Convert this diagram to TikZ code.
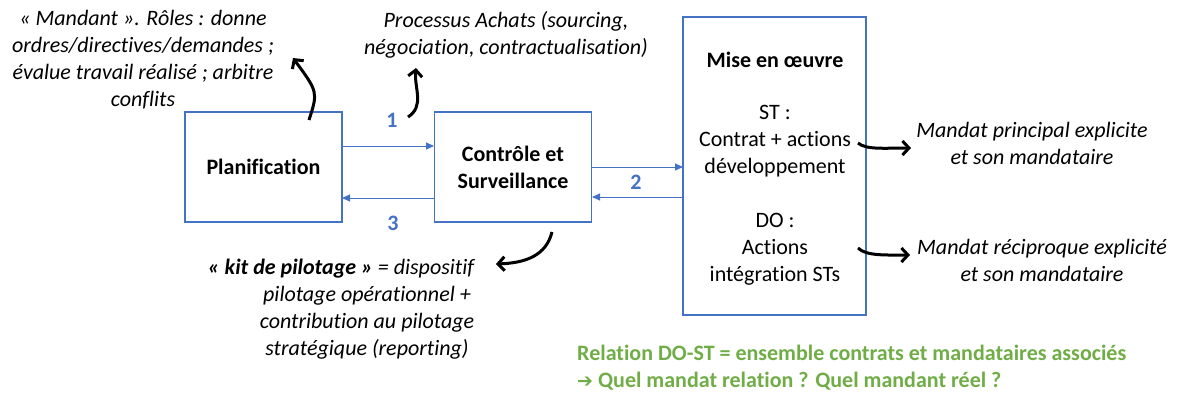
\documentclass[tikz,border=0pt]{standalone}
\usepackage{fontspec}
\setmainfont{Carlito}[Ligatures=NoCommon]
\newfontfamily\symfont{DejaVu Sans}
\usetikzlibrary{arrows.meta}
\definecolor{boxblue}{HTML}{4472C4}
\definecolor{okgreen}{HTML}{70AD47}
\newcommand{\bigf}{\fontsize{22}{27}\selectfont}
\tikzset{
  procbox/.style={draw=boxblue,line width=1.2pt,minimum width=157pt,minimum height=110pt,inner sep=0pt,align=center,font=\bigf\bfseries},
  flow/.style={draw=boxblue,line width=1pt,-{Triangle[length=8pt,width=7pt]}},
  curvy/.style={line width=3pt,-{Straight Barb[length=6.5pt,width=14pt,line width=3pt]}},
  num/.style={text=boxblue,font=\bigf\bfseries},
  note/.style={align=center,font=\bigf\itshape,inner sep=0pt},
  plain/.style={align=center,inner sep=0pt,font=\bigf},
}
\begin{document}
\begin{tikzpicture}[x=1pt,y=-1pt]
\useasboundingbox (0,0) rectangle (1180,394);
% boxes
\node[procbox] (plan) at (263.5,167) {Planification};
\node[procbox] (ctrl) at (513,167) {Contrôle et\\Surveillance};
\node[draw=boxblue,line width=1.2pt,minimum width=183pt,minimum height=298pt,inner sep=0pt] (mise) at (774.5,166) {};
% blue flows
\coordinate (p1) at (342,146);
\coordinate (c1) at (434,146);
\coordinate (c3) at (434,198);
\coordinate (p3) at (342,198);
\coordinate (c2) at (592,167);
\coordinate (m2) at (683,167);
\coordinate (m4) at (683,197);
\coordinate (c4) at (592,197);
\draw[flow] (p1) -- (c1);
\draw[flow] (c3) -- (p3);
\draw[flow] (c2) -- (m2);
\draw[flow] (m4) -- (c4);
\node[num] (n1) at (392,120) {1};
\node[num] (n3) at (393,223) {3};
\node[num] (n2) at (636,182) {2};
% texts
\node[note] (mandant) at (143,60) {« Mandant ». Rôles : donne\\ordres/directives/demandes ;\\évalue travail réalisé ; arbitre\\conflits};
\node[note] (achats) at (506,35) {Processus Achats (sourcing,\\négociation, contractualisation)};
\node[plain,font=\bigf\bfseries] (mtitle) at (775,60) {Mise en œuvre};
\node[plain] (st) at (775,141) {ST :\\Contrat + actions\\développement};
\node[plain] (do) at (775,249) {DO :\\Actions\\intégration STs};
\node[note] (mp) at (1032,143) {Mandat principal explicite\\et son mandataire};
\node[note] (mr) at (1042,260) {Mandat réciproque explicité\\et son mandataire};
\node[note] (kit) at (341,269) {\textbf{« kit de pilotage »} = dispositif};
\node[note] (kit2) at (367,323) {pilotage opérationnel +\\contribution au pilotage\\stratégique (reporting)};
\node[align=left,anchor=west,inner sep=0pt,text=okgreen,font=\bigf\bfseries] (rel) at (577,368) {Relation DO-ST = ensemble contrats et mandataires associés\\{\symfont\bfseries\fontsize{19}{27}\selectfont ➔} Quel mandat relation ? Quel mandant réel ?};
% black curved arrows
\coordinate (a1s) at (309,120);
\coordinate (a1e) at (293,58);
\draw[curvy] (a1s) .. controls (318,92) .. (a1e);
\coordinate (a2s) at (408,117);
\coordinate (a2e) at (416,68);
\draw[curvy] (a2s) .. controls (425,106) and (414,88) .. (a2e);
\coordinate (a3s) at (552,232);
\coordinate (a3e) at (496,264);
\draw[curvy] (a3s) .. controls (546,256) and (525,263) .. (a3e);
\coordinate (a4s) at (858,143);
\coordinate (a4e) at (911,148);
\draw[curvy] (a4s) .. controls (866,150) and (885,148) .. (a4e);
\coordinate (a5s) at (858,248);
\coordinate (a5e) at (910,255);
\draw[curvy] (a5s) .. controls (866,256) and (885,255) .. (a5e);
\end{tikzpicture}
\end{document}
